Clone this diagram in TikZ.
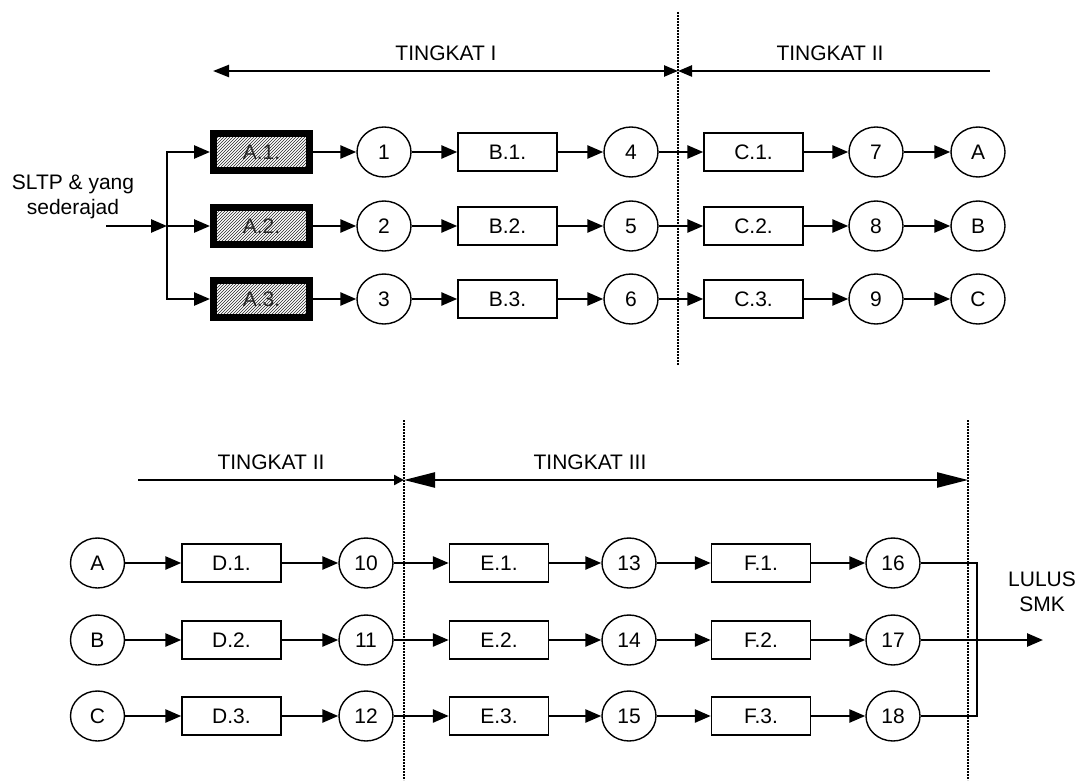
\documentclass[tikz,border=0pt]{standalone}
\usepackage{fontspec}
\setmainfont{Liberation Sans}
\usetikzlibrary{arrows.meta,shapes.geometric,patterns}
\begin{document}
\begin{tikzpicture}[x=1pt,y=-1pt,
  lbl/.style={font=\fontsize{21}{25}\selectfont},
  circ/.style={ellipse,draw,line width=1.4pt,minimum width=54pt,minimum height=50pt,inner sep=0pt,font=\fontsize{21}{24}\selectfont},
  boxn/.style={rectangle,draw,line width=1.4pt,minimum width=99pt,minimum height=38pt,inner sep=0pt,font=\fontsize{21}{24}\selectfont},
  abox/.style={rectangle,draw,line width=7pt,minimum width=96pt,minimum height=37pt,inner sep=0pt,pattern=north east lines,pattern color=black!85,font=\fontsize{21}{24}\selectfont,text=black!85},
  arr/.style={line width=2.6pt,-{Triangle[length=16pt,width=13pt]}},
  plain/.style={line width=2pt},
  dotl/.style={line width=2.4pt,dash pattern=on 1.6pt off 1.4pt},
  harr/.style={line width=2.4pt}
]
\useasboundingbox (0,0) rectangle (1090,781);

% ---------- top section ----------
\draw[dotl] (678,12) -- (678,365);
\node[lbl] (tI) at (446,53) {TINGKAT I};
\node[lbl] (tII) at (830,53) {TINGKAT II};
\coordinate (t1l) at (213,71);
\coordinate (t1r) at (678,71);
\coordinate (t2r) at (990,71);
\draw[harr,{Triangle[length=16pt,width=12pt]}-{Triangle[length=14pt,width=11pt]}] (t1l) -- (t1r);
\draw[harr,-{Triangle[length=14pt,width=11pt]}] (t2r) -- (t1r);

\node[lbl,align=center] (sltp) at (73,197) {SLTP \& yang\\sederajad};
\coordinate (in) at (106,226);
\coordinate (split) at (167,226);

\foreach \r/\y in {1/152,2/226,3/299}{
  \node[abox] (a\r) at (261.5,\y) {A.\r.};
}

\draw[arr] (in) -- (split);
\draw[arr] (split) |- (a1.west);
\draw[arr] (split) -- (a2.west);
\draw[arr] (split) |- (a3.west);

\foreach \r/\y/\i/\j/\k/\l in {1/152/1/4/7/A, 2/226/2/5/8/B, 3/299/3/6/9/C}{
  \node[circ] (c\i) at (384,\y) {\i};
  \node[boxn] (b\r) at (507.5,\y) {B.\r.};
  \node[circ] (c\j) at (631,\y) {\j};
  \node[boxn] (cc\r) at (753.5,\y) {\raisebox{-3pt}{C.\r.}};
  \node[circ] (c\k) at (876,\y) {\k};
  \node[circ] (o\l) at (978,\y) {\l};
  \draw[arr] (a\r) -- (c\i);
  \draw[arr] (c\i) -- (b\r);
  \draw[arr] (b\r) -- (c\j);
  \draw[arr] (c\j) -- (cc\r);
  \draw[arr] (cc\r) -- (c\k);
  \draw[arr] (c\k) -- (o\l);
}

% ---------- bottom section ----------
\draw[dotl] (404,420) -- (404,780);
\draw[dotl] (968,420) -- (968,780);
\node[lbl] (bII) at (271,462) {TINGKAT II};
\node[lbl] (bIII) at (590,462) {TINGKAT III};
\coordinate (b2l) at (138,480);
\coordinate (b2r) at (404,480);
\coordinate (b3r) at (968,480);
\draw[harr,-{Triangle[length=10pt,width=10pt]}] (b2l) -- (b2r);
\draw[harr,{Triangle[length=31pt,width=15pt]}-{Triangle[length=31pt,width=15pt]}] (b2r) -- (b3r);

\foreach \r/\y/\l/\a/\b/\c in {1/563/A/10/13/16, 2/640/B/11/14/17, 3/716/C/12/15/18}{
  \node[circ] (i\l) at (97.5,\y) {\l};
  \node[boxn] (d\r) at (231.5,\y) {D.\r.};
  \node[circ] (c\a) at (366,\y) {\a};
  \node[boxn] (e\r) at (499,\y) {\raisebox{-3pt}{E.\r.}};
  \node[circ] (c\b) at (629,\y) {\b};
  \node[boxn] (f\r) at (761,\y) {F.\r.};
  \node[circ] (c\c) at (893,\y) {\c};
  \draw[arr] (i\l) -- (d\r);
  \draw[arr] (d\r) -- (c\a);
  \draw[arr] (c\a) -- (e\r);
  \draw[arr] (e\r) -- (c\b);
  \draw[arr] (c\b) -- (f\r);
  \draw[arr] (f\r) -- (c\c);
}

\coordinate (col) at (977,640);
\coordinate (out) at (1043,640);
\draw[plain] (c16.east) -- (c16.east -| col) -- (c18.east -| col) -- (c18.east);
\draw[arr] (c17) -- (out);
\node[lbl,align=center] (lulus) at (1042,592) {LULUS\\SMK};
\end{tikzpicture}
\end{document}
